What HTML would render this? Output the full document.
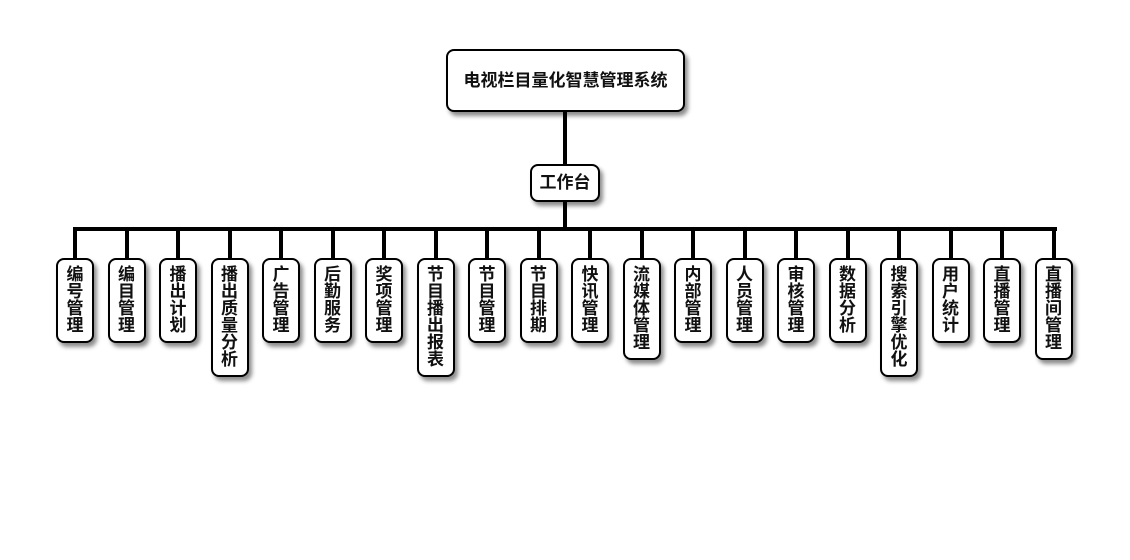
<!DOCTYPE html><html><head><meta charset="utf-8"><style>
body{margin:0;width:1130px;height:560px;background:#fff;position:relative;overflow:hidden;font-family:"Liberation Sans","Noto Sans CJK SC",sans-serif;font-weight:bold;color:#111}
.b{position:absolute;background:#fff;border:2px solid #000;border-radius:8px;box-sizing:border-box;box-shadow:3px 4px 4px rgba(0,0,0,.45);text-align:center}
.v{width:38px;font-size:17px;line-height:17px;padding-top:6px}
.l{position:absolute;background:#000}
</style></head><body>
<div class="l" style="left:563px;top:112px;width:4px;height:52px"></div>
<div class="l" style="left:563px;top:202px;width:4px;height:27px"></div>
<div class="l" style="left:73px;top:227px;width:984px;height:4px"></div>
<div class="b" style="left:446px;top:49px;width:239px;height:63px;line-height:59px;font-size:17px">电视栏目量化智慧管理系统</div>
<div class="b" style="left:530px;top:164px;width:70px;height:38px;line-height:34px;font-size:17px">工作台</div>
<div id="c"></div>
<script>
var n=["编号管理","编目管理","播出计划","播出质量分析","广告管理","后勤服务","奖项管理","节目播出报表","节目管理","节目排期","快讯管理","流媒体管理","内部管理","人员管理","审核管理","数据分析","搜索引擎优化","用户统计","直播管理","直播间管理"];
var h="";
n.forEach(function(t,i){var cx=75+i*51.5;
h+='<div class="l" style="left:'+(cx-2)+'px;top:229px;width:4px;height:30px"></div>';
h+='<div class="b v" style="left:'+(cx-19)+'px;top:258px;height:'+(17+17*t.length)+'px">'+t.split("").join("<br>")+'</div>';});
document.getElementById("c").innerHTML=h;
</script>
</body></html>
